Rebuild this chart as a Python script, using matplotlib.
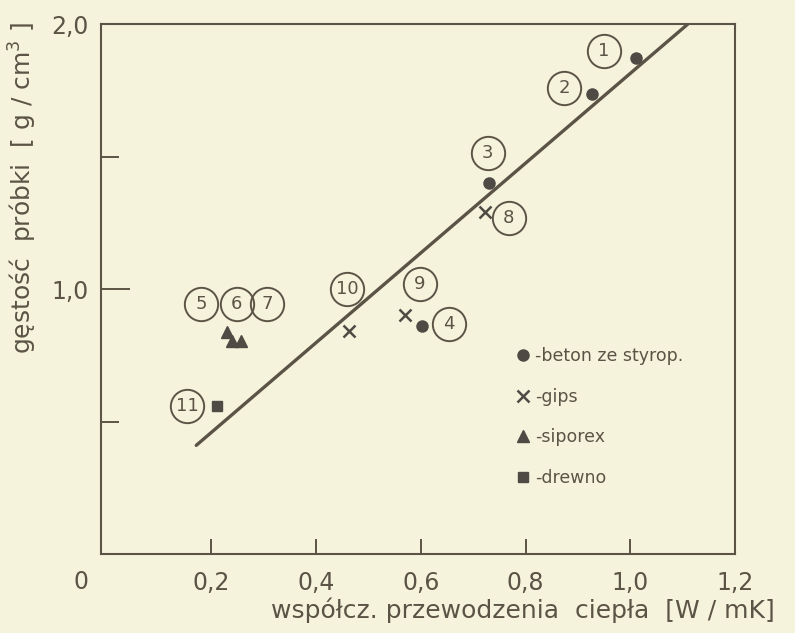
import matplotlib
matplotlib.use("Agg")
import matplotlib.pyplot as plt
import matplotlib.transforms as mtransforms

BETON_X = [1.010, 0.926, 0.730, 0.602]
BETON_Y = [1.872, 1.737, 1.402, 0.861]
GIPS_X = [0.722, 0.570, 0.463]
GIPS_Y = [1.289, 0.902, 0.842]
SIPOREX_X = [0.229, 0.240, 0.257]
SIPOREX_Y = [0.838, 0.805, 0.805]
DREWNO_X = [0.210]
DREWNO_Y = [0.560]

# regression line end points
FIT_X = [0.171, 1.110]
FIT_Y = [0.410, 2.000]

# circled sample numbers
LABEL_IDS = ["1", "2", "3", "4", "5", "6", "7", "8", "9", "10", "11"]
LABEL_X = [0.950, 0.874, 0.728, 0.653, 0.181, 0.248, 0.307, 0.768, 0.598, 0.459, 0.154]
LABEL_Y = [1.898, 1.759, 1.515, 0.868, 0.944, 0.944, 0.944, 1.267, 1.019, 1.000, 0.560]

XTICKS = [0.2, 0.4, 0.6, 0.8, 1.0, 1.2]
XTICK_LABELS = ["0,2", "0,4", "0,6", "0,8", "1,0", "1,2"]
YTICKS = [1.0, 2.0]
YTICK_LABELS = ["1,0", "2,0"]
YMINOR = [0.5, 1.5]

BG = "#f6f3dd"
INK = "#5b5446"
MARK = "#4f4a44"

plt.rcParams["font.family"] = ["DejaVu Sans"]

fig = plt.figure(figsize=(7.95, 6.33), dpi=100, facecolor=BG)
ax = fig.add_axes([0.127, 0.1248, 0.7975, 0.8372], facecolor=BG)

ax.plot(FIT_X, FIT_Y, color=INK, lw=2.4, solid_capstyle="round", zorder=2)

ax.plot(BETON_X, BETON_Y, "o", color=MARK, ms=8, ls="none", label="-beton ze styrop.", zorder=3)
ax.plot(GIPS_X, GIPS_Y, "x", color=MARK, ms=9, mew=1.8, ls="none", label="-gips", zorder=3)
ax.plot(SIPOREX_X, SIPOREX_Y, "^", color=MARK, ms=8, ls="none", label="-siporex", zorder=3)
ax.plot(DREWNO_X, DREWNO_Y, "s", color=MARK, ms=7, ls="none", label="-drewno", zorder=3)

for lid, lx, ly in zip(LABEL_IDS, LABEL_X, LABEL_Y):
    ax.plot(lx, ly, "o", ms=24, mfc="none", mec=INK, mew=1.4, zorder=4)
    ax.text(lx, ly, lid, ha="center", va="center", fontsize=13, color=INK, zorder=5)

ax.set_xlim(-0.011, 1.2)
ax.set_ylim(0, 2.0)

ax.set_xticks(XTICKS)
ax.set_xticklabels(XTICK_LABELS)
ax.set_yticks(YTICKS)
ax.set_yticklabels(YTICK_LABELS)
ax.set_yticks(YMINOR, minor=True)

ax.tick_params(axis="x", direction="in", length=11, width=1.4, color=INK,
               labelsize=17, labelcolor=INK, pad=12)
ax.tick_params(axis="y", which="major", direction="in", length=21, width=1.4, color=INK,
               labelsize=17, labelcolor=INK, pad=9)
ax.tick_params(axis="y", which="minor", direction="in", length=13, width=1.4, color=INK)

for sp in ax.spines.values():
    sp.set_color(INK)
    sp.set_linewidth(1.5)

# origin label sits at the lower left corner
trans = mtransforms.blended_transform_factory(ax.transData, ax.transAxes)
ax.text(-0.05, -0.053, "0", transform=trans, ha="center", va="center",
        fontsize=17, color=INK, clip_on=False)

ax.set_xlabel("współcz. przewodzenia  ciepła  [W / mK]", fontsize=18, color=INK)
ax.xaxis.set_label_coords(0.665, -0.083)
ax.set_ylabel("gęstość  próbki  [ g / cm$^3$ ]", fontsize=18, color=INK)
ax.yaxis.set_label_coords(-0.097, 0.69)

leg = ax.legend(loc="upper left", bbox_to_anchor=(0.63, 0.42), frameon=False,
                handlelength=0.8, handletextpad=0.3, labelspacing=1.3,
                fontsize=12.5, labelcolor=INK)

fig.savefig("out.png", dpi=100, facecolor=BG)
